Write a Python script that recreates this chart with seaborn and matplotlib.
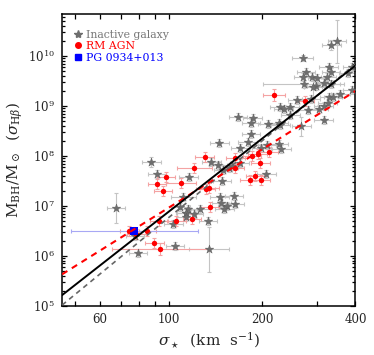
import numpy as np
import pandas as pd
import matplotlib
matplotlib.use("Agg")
import matplotlib.pyplot as plt
import seaborn as sns
from matplotlib.ticker import LogLocator, NullFormatter, FixedLocator, FixedFormatter
from matplotlib.lines import Line2D

# --- DATA (sigma in km/s, log10 of M_BH/M_sun, errors in dex) ---
star_sigma = [87.8, 91.6, 115.8, 67.5, 79.6, 77.8, 103.4, 104.7, 111.4, 113.3,
              115.0, 145.5, 170.1, 179.6, 137.1, 144.1, 169.2, 145.8, 147.7, 162.1,
              154.1, 163.1, 151.1, 126.4, 120.2, 113.9, 113.9, 108.9, 133.8, 135.1,
              148.4, 272.2, 299.2, 333.7, 259.2, 357.5, 390.0, 227.7, 234.6, 245.3,
              246.6, 304.3, 315.8, 325.3, 280.4, 167.2, 186.3, 184.1, 208.3, 226.1,
              229.0, 315.8, 267.6, 184.1, 226.1, 230.7, 206.3, 348.8, 334.4, 270.2,
              277.2, 271.0, 289.7, 300.3, 322.8, 327.7, 333.7, 317.4, 291.9, 378.5,
              390.0, 328.7, 338.7, 287.5, 155.9, 149.6, 159.9, 198.7, 207.4]
star_logm = [7.87, 7.64, 7.58, 6.95, 6.05, 6.40, 6.64, 6.19, 7.17, 6.85,
             6.93, 8.25, 8.16, 8.28, 7.87, 7.82, 7.86, 7.17, 7.05, 7.19,
             6.99, 7.03, 6.93, 6.93, 6.83, 6.86, 6.77, 6.98, 6.70, 6.13,
             7.50, 9.43, 9.39, 9.43, 9.11, 9.23, 9.31, 8.98, 8.93, 8.98,
             8.81, 8.93, 8.99, 9.05, 8.91, 8.77, 8.76, 8.66, 8.63, 8.66,
             8.61, 8.71, 8.59, 8.44, 8.23, 8.13, 7.63, 10.29, 10.21, 9.95,
             9.67, 9.58, 9.58, 9.56, 9.58, 9.78, 9.67, 9.45, 9.38, 9.66,
             9.77, 9.18, 9.17, 9.13, 7.75, 7.71, 7.80, 8.15, 8.21]
star_xerr = [0.03, 0.03, 0.03, 0.03, 0.03, 0.03, 0.03, 0.03, 0.04, 0.03,
             0.03, 0.03, 0.03, 0.03, 0.03, 0.03, 0.03, 0.03, 0.03, 0.03,
             0.03, 0.03, 0.03, 0.03, 0.03, 0.03, 0.03, 0.03, 0.03, 0.065,
             0.03, 0.13, 0.03, 0.03, 0.03, 0.03, 0.03, 0.03, 0.03, 0.03,
             0.03, 0.03, 0.03, 0.03, 0.03, 0.03, 0.03, 0.03, 0.03, 0.03,
             0.03, 0.03, 0.03, 0.03, 0.03, 0.03, 0.03, 0.03, 0.03, 0.035,
             0.03, 0.03, 0.03, 0.03, 0.03, 0.03, 0.03, 0.03, 0.03, 0.03,
             0.03, 0.03, 0.03, 0.03, 0.03, 0.03, 0.03, 0.03, 0.03]
star_yerr = [0.10, 0.08, 0.08, 0.30, 0.08, 0.08, 0.08, 0.08, 0.08, 0.08,
             0.08, 0.08, 0.08, 0.08, 0.08, 0.08, 0.08, 0.08, 0.08, 0.08,
             0.08, 0.08, 0.08, 0.08, 0.08, 0.08, 0.08, 0.08, 0.08, 0.45,
             0.08, 0.08, 0.08, 0.08, 0.08, 0.08, 0.08, 0.08, 0.08, 0.08,
             0.08, 0.08, 0.08, 0.08, 0.08, 0.08, 0.08, 0.08, 0.08, 0.08,
             0.08, 0.08, 0.19, 0.08, 0.08, 0.08, 0.08, 0.43, 0.10, 0.06,
             0.08, 0.08, 0.08, 0.08, 0.08, 0.08, 0.08, 0.08, 0.20, 0.08,
             0.08, 0.08, 0.08, 0.08, 0.08, 0.08, 0.08, 0.08, 0.08]

agn_sigma = [74.7, 78.6, 84.8, 89.8, 93.9, 93.0, 105.7, 118.8, 135.4, 91.6,
             95.8, 97.9, 109.7, 120.9, 130.4, 131.6, 135.1, 163.1, 163.9, 185.5,
             193.4, 197.3, 209.8, 190.1, 182.2, 198.3, 218.4, 274.7]
agn_logm = [6.50, 6.43, 6.50, 6.26, 6.13, 6.70, 6.69, 6.73, 6.98, 7.43,
            7.29, 7.58, 7.45, 7.76, 7.97, 7.34, 7.35, 7.75, 7.95, 8.00,
            8.03, 7.86, 8.08, 7.59, 7.51, 7.51, 9.21, 9.09]
agn_xerr = [0.03, 0.03, 0.03, 0.03, 0.157, 0.03, 0.03, 0.03, 0.03, 0.03,
            0.03, 0.03, 0.048, 0.056, 0.03, 0.03, 0.03, 0.03, 0.03, 0.03,
            0.03, 0.03, 0.03, 0.03, 0.03, 0.03, 0.035, 0.03]
agn_yerr = [0.10, 0.10, 0.10, 0.10, 0.12, 0.10, 0.10, 0.10, 0.10, 0.10,
            0.10, 0.10, 0.10, 0.10, 0.10, 0.10, 0.10, 0.10, 0.10, 0.10,
            0.10, 0.10, 0.10, 0.10, 0.10, 0.10, 0.12, 0.10]

pg_sigma = [77.4]
pg_logm = [6.50]
pg_xerr = [0.205]
pg_yerr = [0.08]

# fit lines: log M = a + b log(sigma/200)
fit_all = (8.345, 4.86)      # black solid
fit_inactive = (8.30, 5.10)  # grey dashed
fit_agn = (8.13, 3.88)       # red dashed

XLIM = (45.3, 400)
YLIM = (1e5, 10 ** 10.84)


def err_bounds(sig, logm, xe, ye):
    sig = np.asarray(sig); m = 10 ** np.asarray(logm)
    xe = np.asarray(xe); ye = np.asarray(ye)
    xerr = [sig - sig * 10 ** (-xe), sig * 10 ** xe - sig]
    yerr = [m - m * 10 ** (-ye), m * 10 ** ye - m]
    return sig, m, xerr, yerr


sns.set_style("ticks")
plt.rcParams['font.family'] = ['DejaVu Serif']
plt.rcParams['mathtext.fontset'] = 'dejavuserif'

fig, ax = plt.subplots(figsize=(3.74, 3.55), dpi=100)
fig.subplots_adjust(left=0.166, right=0.9505, bottom=0.139, top=0.9606)
ax.set_xscale('log')
ax.set_yscale('log')

# error bars
s, m, xe, ye = err_bounds(star_sigma, star_logm, star_xerr, star_yerr)
ax.errorbar(s, m, xerr=xe, yerr=ye, fmt='none', ecolor='#c4c4c4', elinewidth=0.8,
            capsize=1.5, capthick=0.8, zorder=1)
s2, m2, xe2, ye2 = err_bounds(agn_sigma, agn_logm, agn_xerr, agn_yerr)
ax.errorbar(s2, m2, xerr=xe2, yerr=ye2, fmt='none', ecolor='#f4a3a3', elinewidth=0.8,
            capsize=1.5, capthick=0.8, zorder=1)
s3, m3, xe3, ye3 = err_bounds(pg_sigma, pg_logm, pg_xerr, pg_yerr)
ax.errorbar(s3, m3, xerr=xe3, yerr=ye3, fmt='none', ecolor='#a8a8f4', elinewidth=0.8,
            capsize=1.5, capthick=0.8, zorder=1)

stars = pd.DataFrame({'sigma': s, 'M': m})
agn = pd.DataFrame({'sigma': s2, 'M': m2})
pg = pd.DataFrame({'sigma': s3, 'M': m3})

sns.scatterplot(data=stars, x='sigma', y='M', marker='*', s=42, color='#6e6e6e',
                edgecolor='#5a5a5a', linewidth=0.3, ax=ax, zorder=3)
sns.scatterplot(data=agn, x='sigma', y='M', marker='o', s=15, color='red',
                edgecolor='red', linewidth=0, ax=ax, zorder=4)
sns.scatterplot(data=pg, x='sigma', y='M', marker='s', s=30, color='blue',
                edgecolor='blue', linewidth=0, ax=ax, zorder=5)

# fit lines
xx = np.array(XLIM)
for (a, b), col, ls, lw in [(fit_inactive, '#666666', (0, (3.0, 2.5)), 1.2),
                            (fit_agn, 'red', (0, (3.0, 2.5)), 1.5),
                            (fit_all, 'black', '-', 1.4)]:
    line = pd.DataFrame({'sigma': xx, 'M': 10 ** (a + b * np.log10(xx / 200.0))})
    sns.lineplot(data=line, x='sigma', y='M', color=col, linestyle=ls, linewidth=lw,
                 ax=ax, zorder=6)

ax.set_xlim(*XLIM)
ax.set_ylim(*YLIM)

ax.xaxis.set_major_locator(FixedLocator([50, 60, 70, 80, 90, 100, 200, 300, 400]))
ax.xaxis.set_major_formatter(FixedFormatter(['', '60', '', '', '', '100', '200', '', '400']))
ax.xaxis.set_minor_locator(FixedLocator([]))
ax.yaxis.set_major_locator(LogLocator(base=10, numticks=20))
ax.yaxis.set_minor_locator(LogLocator(base=10, subs=np.arange(2, 10), numticks=20))
ax.yaxis.set_minor_formatter(NullFormatter())

ax.tick_params(which='both', direction='in', top=True, right=True, labelsize=8.5,
               width=0.9, color='black')
ax.tick_params(which='major', length=3.8, pad=5)
ax.tick_params(which='minor', length=2.0)
for sp in ax.spines.values():
    sp.set_linewidth(1.1)
    sp.set_color('black')

ax.set_xlabel(r'$\sigma_\star\ \ (\mathrm{km\ \ s^{-1}})$', fontsize=11, labelpad=3)
ax.set_ylabel(r'$\mathrm{M_{BH}/M_\odot}\ \ (\sigma_{\mathrm{H}\beta})$', fontsize=11,
              labelpad=2)

handles = [Line2D([], [], marker='*', color='#6e6e6e', linestyle='none', markersize=6),
           Line2D([], [], marker='o', color='red', linestyle='none', markersize=4),
           Line2D([], [], marker='s', color='blue', linestyle='none', markersize=4)]
ax.legend(handles, ['Inactive galaxy', 'RM AGN', 'PG 0934+013'], loc='upper left',
          bbox_to_anchor=(0.01, 0.975), frameon=False, fontsize=7.8, handlelength=0.8,
          handletextpad=0.3, labelspacing=0.12, borderaxespad=0.5, borderpad=0.3,
          labelcolor=['#777777', 'red', 'blue'])

fig.savefig('out.png', dpi=100)
